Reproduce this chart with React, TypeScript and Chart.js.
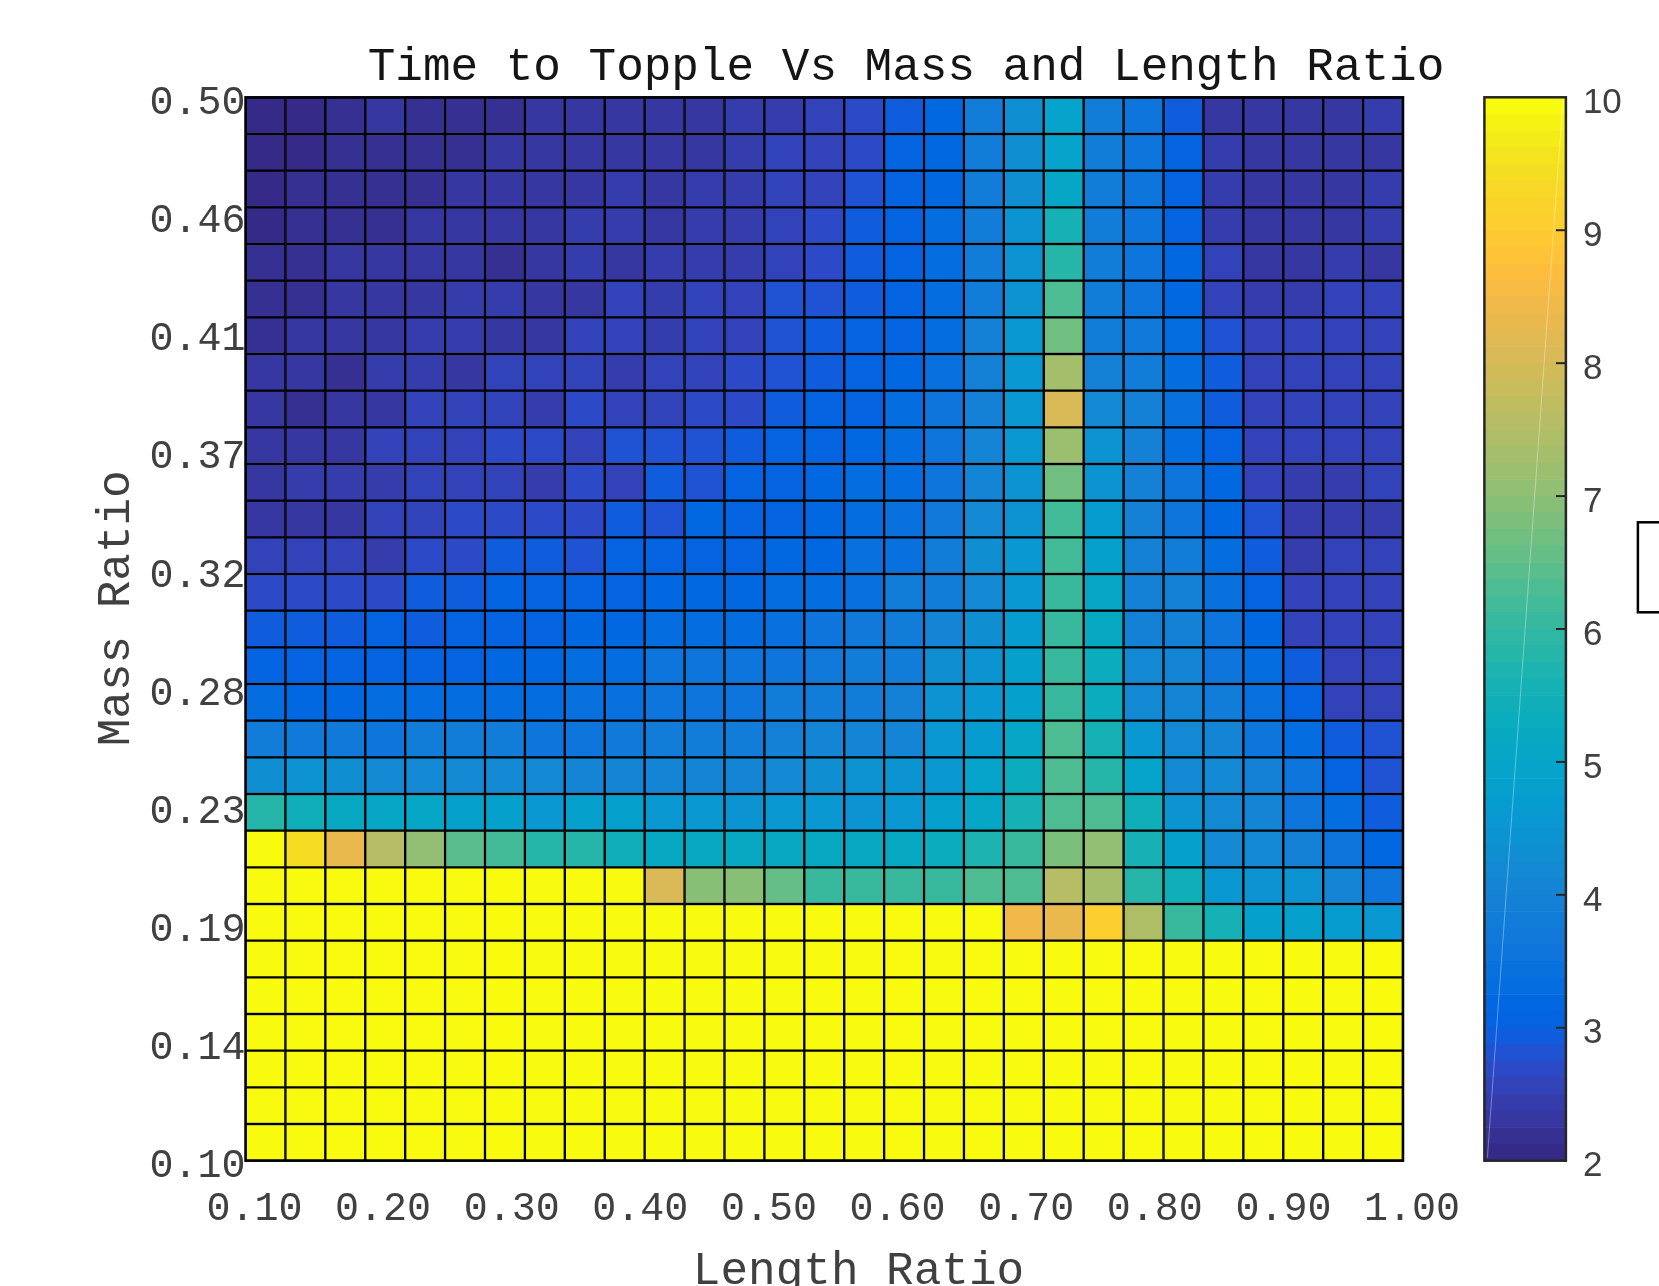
import React, { useEffect, useRef } from 'react';
import { Chart, registerables } from 'chart.js';

Chart.register(...registerables);

// ---------------- data ----------------
const chartTitle = 'Time to Topple Vs Mass and Length Ratio';
const xAxisTitle = 'Length Ratio';
const yAxisTitle = 'Mass Ratio';

const lengthRange = [0.1, 1.0];
const massRange = [0.1, 0.5];
const lengthTickLabels = ['0.10', '0.20', '0.30', '0.40', '0.50', '0.60', '0.70', '0.80', '0.90', '1.00'];
const massTickLabels = ['0.10', '0.14', '0.19', '0.23', '0.28', '0.32', '0.37', '0.41', '0.46', '0.50'];
const colorRange = [2, 10];
const colorbarTickLabels = ['2', '3', '4', '5', '6', '7', '8', '9', '10'];

// Time to topple. Rows listed from the top of the plot (mass ratio 0.50) down to the bottom (0.10);
// each row holds 29 cells from length ratio 0.10 (left) to 1.00 (right).
const toppleTime = [
  [2.1, 2.05, 2.2, 2.25, 2.2, 2.15, 2.15, 2.25, 2.3, 2.3, 2.3, 2.25, 2.4, 2.45, 2.55, 2.7, 2.9, 3.2, 3.75, 4.35, 4.9, 3.8, 3.5, 2.9, 2.35, 2.35, 2.3, 2.35, 2.4],
  [2.1, 2.05, 2.2, 2.2, 2.2, 2.15, 2.25, 2.25, 2.3, 2.3, 2.3, 2.25, 2.4, 2.5, 2.5, 2.7, 3.05, 3.2, 3.75, 4.35, 4.95, 3.8, 3.6, 3.1, 2.45, 2.35, 2.3, 2.35, 2.35],
  [2.05, 2.2, 2.2, 2.15, 2.15, 2.3, 2.3, 2.25, 2.3, 2.4, 2.3, 2.45, 2.45, 2.5, 2.5, 2.75, 3.05, 3.2, 3.75, 4.35, 5.05, 3.8, 3.6, 3.1, 2.45, 2.35, 2.3, 2.35, 2.4],
  [2.05, 2.2, 2.2, 2.15, 2.35, 2.35, 2.3, 2.25, 2.4, 2.4, 2.3, 2.45, 2.45, 2.5, 2.7, 2.9, 3.05, 3.25, 3.75, 4.4, 5.5, 3.8, 3.6, 3.1, 2.45, 2.35, 2.3, 2.35, 2.4],
  [2.15, 2.15, 2.25, 2.3, 2.3, 2.25, 2.2, 2.35, 2.4, 2.35, 2.4, 2.45, 2.45, 2.5, 2.7, 2.9, 3.1, 3.3, 3.85, 4.4, 5.8, 3.8, 3.6, 3.15, 2.55, 2.3, 2.3, 2.45, 2.3],
  [2.2, 2.15, 2.25, 2.3, 2.25, 2.45, 2.4, 2.35, 2.3, 2.5, 2.45, 2.5, 2.55, 2.75, 2.75, 2.95, 3.1, 3.3, 3.85, 4.45, 6.3, 3.8, 3.6, 3.2, 2.55, 2.45, 2.45, 2.5, 2.5],
  [2.15, 2.25, 2.25, 2.25, 2.45, 2.4, 2.35, 2.3, 2.5, 2.5, 2.45, 2.55, 2.55, 2.75, 2.9, 3.05, 3.1, 3.35, 3.9, 4.5, 6.65, 3.8, 3.65, 3.25, 2.75, 2.5, 2.5, 2.5, 2.5],
  [2.25, 2.25, 2.2, 2.4, 2.4, 2.35, 2.55, 2.5, 2.5, 2.45, 2.5, 2.6, 2.7, 2.8, 2.95, 3.05, 3.15, 3.45, 3.95, 4.55, 7.25, 3.9, 3.85, 3.3, 2.9, 2.5, 2.5, 2.5, 2.5],
  [2.25, 2.2, 2.35, 2.35, 2.55, 2.55, 2.5, 2.45, 2.65, 2.6, 2.55, 2.7, 2.7, 2.95, 3.05, 3.1, 3.25, 3.5, 3.95, 4.6, 8.0, 4.2, 3.9, 3.4, 2.95, 2.5, 2.5, 2.5, 2.5],
  [2.35, 2.35, 2.3, 2.55, 2.55, 2.5, 2.7, 2.65, 2.6, 2.8, 2.75, 2.8, 2.95, 3.05, 3.05, 3.15, 3.35, 3.6, 4.0, 4.6, 7.2, 4.4, 3.9, 3.35, 3.05, 2.55, 2.5, 2.5, 2.5],
  [2.3, 2.45, 2.45, 2.4, 2.55, 2.55, 2.5, 2.45, 2.7, 2.6, 2.9, 2.85, 3.0, 3.0, 3.15, 3.3, 3.25, 3.55, 4.0, 4.4, 6.7, 4.4, 3.9, 3.5, 3.15, 2.6, 2.45, 2.45, 2.5],
  [2.35, 2.35, 2.35, 2.55, 2.55, 2.7, 2.65, 2.65, 2.7, 2.9, 2.85, 3.15, 3.05, 3.1, 3.15, 3.35, 3.45, 3.7, 4.15, 4.45, 6.15, 4.7, 3.9, 3.55, 3.15, 2.75, 2.4, 2.45, 2.45],
  [2.5, 2.5, 2.5, 2.45, 2.7, 2.65, 2.9, 2.9, 2.85, 3.05, 3.05, 3.05, 3.05, 3.15, 3.2, 3.4, 3.45, 3.75, 4.25, 4.6, 6.15, 4.75, 3.9, 3.8, 3.3, 2.95, 2.45, 2.55, 2.6],
  [2.65, 2.7, 2.7, 2.65, 2.9, 2.9, 3.05, 3.05, 3.05, 3.1, 3.15, 3.15, 3.15, 3.25, 3.3, 3.45, 3.75, 3.8, 4.2, 4.6, 6.05, 5.0, 3.9, 3.9, 3.4, 3.0, 2.5, 2.6, 2.6],
  [2.9, 2.9, 2.9, 3.05, 2.95, 3.05, 3.1, 3.1, 3.15, 3.2, 3.25, 3.3, 3.3, 3.45, 3.5, 3.7, 3.75, 4.0, 4.35, 4.7, 6.1, 5.15, 3.9, 3.9, 3.5, 3.15, 2.6, 2.5, 2.6],
  [3.1, 3.1, 3.1, 3.1, 3.1, 3.1, 3.15, 3.15, 3.3, 3.3, 3.5, 3.5, 3.55, 3.55, 3.7, 3.75, 3.85, 4.3, 4.45, 4.75, 6.1, 5.25, 4.2, 4.05, 3.6, 3.3, 2.9, 2.6, 2.6],
  [3.3, 3.2, 3.2, 3.3, 3.35, 3.3, 3.3, 3.3, 3.45, 3.45, 3.55, 3.55, 3.6, 3.8, 3.8, 3.85, 3.95, 4.4, 4.6, 4.85, 6.1, 5.35, 4.2, 4.05, 3.8, 3.4, 3.05, 2.6, 2.6],
  [3.75, 3.7, 3.65, 3.55, 3.75, 3.75, 3.75, 3.6, 3.6, 3.7, 3.8, 3.85, 3.85, 3.95, 4.0, 4.05, 4.1, 4.5, 4.7, 5.1, 6.25, 5.5, 4.6, 4.2, 4.1, 3.5, 3.3, 2.95, 2.8],
  [4.35, 4.45, 4.3, 4.2, 4.15, 4.15, 4.15, 4.15, 4.1, 4.05, 4.0, 4.0, 4.05, 4.15, 4.3, 4.45, 4.45, 4.6, 4.9, 5.3, 6.25, 5.75, 4.9, 4.15, 4.2, 3.95, 3.5, 3.1, 2.85],
  [5.75, 5.4, 5.2, 5.05, 5.0, 4.85, 4.8, 4.5, 4.75, 4.75, 4.5, 4.5, 4.45, 4.5, 4.5, 4.45, 4.55, 4.75, 5.05, 5.6, 6.35, 6.35, 5.45, 4.4, 4.2, 4.05, 3.55, 3.35, 2.9],
  [10, 9.4, 8.3, 7.5, 7.0, 6.45, 6.2, 5.75, 5.75, 5.45, 5.15, 5.15, 5.2, 5.2, 5.2, 5.2, 5.2, 5.3, 5.65, 6.05, 6.75, 7.0, 5.6, 4.75, 4.2, 4.2, 3.9, 3.5, 3.2],
  [10, 10, 10, 10, 10, 10, 10, 10, 10, 10, 8.1, 6.95, 6.95, 6.5, 6.0, 6.0, 6.0, 6.1, 6.3, 6.35, 7.5, 7.35, 5.8, 5.4, 4.5, 4.4, 4.4, 4.05, 3.55],
  [10, 10, 10, 10, 10, 10, 10, 10, 10, 10, 10, 10, 10, 10, 10, 10, 10, 10, 10, 8.4, 8.3, 9.1, 7.4, 6.0, 5.6, 4.75, 4.75, 4.7, 4.55],
  [10, 10, 10, 10, 10, 10, 10, 10, 10, 10, 10, 10, 10, 10, 10, 10, 10, 10, 10, 10, 10, 10, 10, 10, 10, 10, 10, 10, 10],
  [10, 10, 10, 10, 10, 10, 10, 10, 10, 10, 10, 10, 10, 10, 10, 10, 10, 10, 10, 10, 10, 10, 10, 10, 10, 10, 10, 10, 10],
  [10, 10, 10, 10, 10, 10, 10, 10, 10, 10, 10, 10, 10, 10, 10, 10, 10, 10, 10, 10, 10, 10, 10, 10, 10, 10, 10, 10, 10],
  [10, 10, 10, 10, 10, 10, 10, 10, 10, 10, 10, 10, 10, 10, 10, 10, 10, 10, 10, 10, 10, 10, 10, 10, 10, 10, 10, 10, 10],
  [10, 10, 10, 10, 10, 10, 10, 10, 10, 10, 10, 10, 10, 10, 10, 10, 10, 10, 10, 10, 10, 10, 10, 10, 10, 10, 10, 10, 10],
  [10, 10, 10, 10, 10, 10, 10, 10, 10, 10, 10, 10, 10, 10, 10, 10, 10, 10, 10, 10, 10, 10, 10, 10, 10, 10, 10, 10, 10],
];

// MATLAB parula colormap (64 levels)
const parula = [
  [0.2081, 0.1663, 0.5292], [0.2116, 0.1898, 0.5777], [0.2123, 0.2138, 0.6270], [0.2081, 0.2386, 0.6771],
  [0.1959, 0.2645, 0.7279], [0.1707, 0.2919, 0.7792], [0.1253, 0.3242, 0.8303], [0.0591, 0.3598, 0.8683],
  [0.0117, 0.3875, 0.8820], [0.0060, 0.4086, 0.8828], [0.0165, 0.4266, 0.8786], [0.0329, 0.4430, 0.8720],
  [0.0498, 0.4586, 0.8641], [0.0629, 0.4737, 0.8554], [0.0723, 0.4887, 0.8467], [0.0779, 0.5040, 0.8384],
  [0.0793, 0.5200, 0.8312], [0.0749, 0.5375, 0.8263], [0.0641, 0.5570, 0.8240], [0.0488, 0.5772, 0.8228],
  [0.0343, 0.5966, 0.8199], [0.0265, 0.6137, 0.8135], [0.0239, 0.6287, 0.8038], [0.0231, 0.6418, 0.7913],
  [0.0228, 0.6535, 0.7768], [0.0267, 0.6642, 0.7607], [0.0384, 0.6743, 0.7436], [0.0590, 0.6838, 0.7254],
  [0.0843, 0.6928, 0.7062], [0.1133, 0.7015, 0.6859], [0.1453, 0.7098, 0.6646], [0.1801, 0.7177, 0.6424],
  [0.2178, 0.7250, 0.6193], [0.2586, 0.7317, 0.5954], [0.3022, 0.7376, 0.5712], [0.3482, 0.7424, 0.5473],
  [0.3953, 0.7459, 0.5244], [0.4420, 0.7481, 0.5033], [0.4871, 0.7491, 0.4840], [0.5300, 0.7491, 0.4661],
  [0.5709, 0.7485, 0.4494], [0.6099, 0.7473, 0.4337], [0.6473, 0.7456, 0.4188], [0.6834, 0.7435, 0.4044],
  [0.7184, 0.7411, 0.3905], [0.7525, 0.7384, 0.3768], [0.7858, 0.7356, 0.3633], [0.8185, 0.7327, 0.3498],
  [0.8507, 0.7299, 0.3360], [0.8824, 0.7274, 0.3217], [0.9139, 0.7258, 0.3063], [0.9450, 0.7261, 0.2886],
  [0.9739, 0.7314, 0.2666], [0.9938, 0.7455, 0.2403], [0.9990, 0.7653, 0.2164], [0.9955, 0.7861, 0.1967],
  [0.9880, 0.8066, 0.1794], [0.9789, 0.8271, 0.1633], [0.9697, 0.8481, 0.1475], [0.9626, 0.8705, 0.1309],
  [0.9589, 0.8949, 0.1132], [0.9598, 0.9218, 0.0948], [0.9661, 0.9514, 0.0755], [0.9763, 0.9831, 0.0538],
];

// ---------------- helpers ----------------
const rgb = (c: number[]) =>
  `rgb(${Math.round(c[0] * 255)},${Math.round(c[1] * 255)},${Math.round(c[2] * 255)})`;

const colorFor = (v: number) => {
  const n = parula.length;
  let idx = Math.floor(((v - colorRange[0]) / (colorRange[1] - colorRange[0])) * n);
  idx = Math.max(0, Math.min(n - 1, idx));
  return rgb(parula[idx]);
};

const evenTicks = (range: number[], count: number) =>
  Array.from({ length: count }, (_, i) => ({ value: range[0] + (i * (range[1] - range[0])) / (count - 1) }));

const MONO = "'Liberation Mono', 'Courier New', monospace";
const SANS = "'Liberation Sans', Arial, sans-serif";
const AXIS_GRAY = '#262626';
const LABEL_GRAY = '#404040';

export default function App() {
  const mainRef = useRef<HTMLCanvasElement | null>(null);
  const barRef = useRef<HTMLCanvasElement | null>(null);

  useEffect(() => {
    if (!mainRef.current || !barRef.current) return;

    const nRows = toppleTime.length;
    const nCols = toppleTime[0].length;
    const cellW = (lengthRange[1] - lengthRange[0]) / nCols;
    const cellH = (massRange[1] - massRange[0]) / nRows;

    const datasets = toppleTime.map((row, i) => {
      const r = nRows - 1 - i;
      const y0 = massRange[0] + r * cellH;
      const y1 = y0 + cellH;
      return {
        label: `row ${r}`,
        data: row.map((_, j) => ({ x: lengthRange[0] + (j + 0.5) * cellW, y: [y0, y1] })),
        backgroundColor: row.map((v) => colorFor(v)),
        borderColor: '#000000',
        borderWidth: 1.5,
        borderSkipped: false,
        grouped: false,
        barPercentage: 1,
        categoryPercentage: 1,
      };
    });

    const textPlugin = {
      id: 'figureText',
      afterDatasetsDraw(chart: any) {
        const { ctx, chartArea: a } = chart;
        ctx.save();
        ctx.lineWidth = 2.5;
        ctx.strokeStyle = '#000000';
        ctx.strokeRect(a.left, a.top, a.right - a.left, a.bottom - a.top);
        ctx.restore();
      },
      afterDraw(chart: any) {
        const { ctx, chartArea: a } = chart;
        ctx.save();
        ctx.fillStyle = '#151515';
        ctx.font = `46px ${MONO}`;
        ctx.textAlign = 'center';
        ctx.textBaseline = 'alphabetic';
        ctx.fillText(chartTitle, a.left + 660.5, 80);

        ctx.fillStyle = LABEL_GRAY;
        ctx.fillText(xAxisTitle, a.left + 613, a.bottom + 123);

        ctx.translate(a.left - 117, a.top + 511);
        ctx.rotate(-Math.PI / 2);
        ctx.fillText(yAxisTitle, 0, 0);
        ctx.restore();
      },
    };

    const main = new Chart(mainRef.current, {
      type: 'bar',
      data: { datasets: datasets as any },
      options: {
        animation: false,
        responsive: false,
        devicePixelRatio: 1,
        events: [],
        layout: { padding: { left: 135.5, right: 256, top: 97.3, bottom: 35.3 } },
        plugins: { legend: { display: false }, tooltip: { enabled: false }, title: { display: false } },
        scales: {
          x: {
            type: 'linear',
            min: lengthRange[0],
            max: lengthRange[1],
            offset: false,
            afterBuildTicks: (s: any) => {
              s.ticks = evenTicks(lengthRange, lengthTickLabels.length);
            },
            afterFit: (s: any) => {
              s.height = 90;
            },
            grid: { display: false, drawTicks: false },
            border: { display: false },
            ticks: {
              autoSkip: false,
              maxRotation: 0,
              padding: 25,
              labelOffset: 9,
              color: LABEL_GRAY,
              font: { family: MONO, size: 40 },
              callback: (_v: any, i: number) => lengthTickLabels[i],
            },
          },
          y: {
            type: 'linear',
            min: massRange[0],
            max: massRange[1],
            afterBuildTicks: (s: any) => {
              s.ticks = evenTicks(massRange, massTickLabels.length);
            },
            afterFit: (s: any) => {
              s.width = 110;
            },
            grid: { display: false, drawTicks: false },
            border: { display: false },
            ticks: {
              autoSkip: false,
              padding: 0,
              labelOffset: 6,
              color: LABEL_GRAY,
              font: { family: MONO, size: 40 },
              callback: (_v: any, i: number) => massTickLabels[i],
            },
          },
        },
      } as any,
      plugins: [textPlugin],
    });

    const nLevels = parula.length;
    const step = (colorRange[1] - colorRange[0]) / nLevels;
    const barDatasets = parula.map((c, i) => ({
      label: `level ${i}`,
      data: [[colorRange[0] + i * step, colorRange[0] + (i + 1) * step]],
      backgroundColor: rgb(c),
      borderWidth: 0,
      grouped: false,
      barPercentage: 1,
      categoryPercentage: 1,
    }));

    const colorbarPlugin = {
      id: 'colorbarFrame',
      afterDatasetsDraw(chart: any) {
        const { ctx, chartArea: a } = chart;
        const ys = chart.scales.y;
        ctx.save();
        // faint diagonal rendering streak seen in the reference colorbar
        ctx.strokeStyle = 'rgba(255,255,255,0.35)';
        ctx.lineWidth = 1;
        ctx.beginPath();
        ctx.moveTo(a.left + 3, a.bottom - 3);
        ctx.lineTo(a.right - 3, a.top + 3);
        ctx.stroke();

        ctx.strokeStyle = AXIS_GRAY;
        ctx.lineWidth = 2.5;
        ctx.strokeRect(a.left, a.top, a.right - a.left, a.bottom - a.top);
        ctx.lineWidth = 2;
        ys.ticks.forEach((t: any) => {
          if (t.value <= colorRange[0] || t.value >= colorRange[1]) return;
          const y = ys.getPixelForValue(t.value);
          ctx.beginPath();
          ctx.moveTo(a.right - 10, y);
          ctx.lineTo(a.right, y);
          ctx.stroke();
        });

        // partially visible box at the right edge of the figure
        ctx.strokeStyle = '#000000';
        ctx.lineWidth = 2.5;
        ctx.fillStyle = '#ffffff';
        ctx.fillRect(a.right + 72, a.top + 425, 200, 90);
        ctx.strokeRect(a.right + 72, a.top + 425, 200, 90);
        ctx.restore();
      },
    };

    const colorbar = new Chart(barRef.current, {
      type: 'bar',
      data: { labels: [''], datasets: barDatasets as any },
      options: {
        animation: false,
        responsive: false,
        devicePixelRatio: 1,
        events: [],
        layout: { padding: { left: 44.4, right: 0, top: 97.3, bottom: 125.3 } },
        plugins: { legend: { display: false }, tooltip: { enabled: false }, title: { display: false } },
        scales: {
          x: { display: false, offset: true },
          y: {
            type: 'linear',
            position: 'right',
            min: colorRange[0],
            max: colorRange[1],
            afterBuildTicks: (s: any) => {
              s.ticks = evenTicks(colorRange, colorbarTickLabels.length);
            },
            afterFit: (s: any) => {
              s.width = 93.1;
            },
            grid: { display: false, drawTicks: false },
            border: { display: false },
            ticks: {
              autoSkip: false,
              padding: 17,
              labelOffset: 6,
              color: LABEL_GRAY,
              font: { family: SANS, size: 35 },
              callback: (_v: any, i: number) => colorbarTickLabels[i],
            },
          },
        },
      } as any,
      plugins: [colorbarPlugin],
    });

    return () => {
      main.destroy();
      colorbar.destroy();
    };
  }, []);

  return (
    <div
      style={{
        position: 'absolute',
        left: 0,
        top: 0,
        width: 1659,
        height: 1286,
        background: '#ffffff',
        overflow: 'hidden',
      }}
    >
      <canvas
        ref={mainRef}
        width={1659}
        height={1286}
        style={{ position: 'absolute', left: 0, top: 0, width: 1659, height: 1286 }}
      />
      <canvas
        ref={barRef}
        width={219}
        height={1286}
        style={{ position: 'absolute', left: 1440, top: 0, width: 219, height: 1286 }}
      />
    </div>
  );
}
